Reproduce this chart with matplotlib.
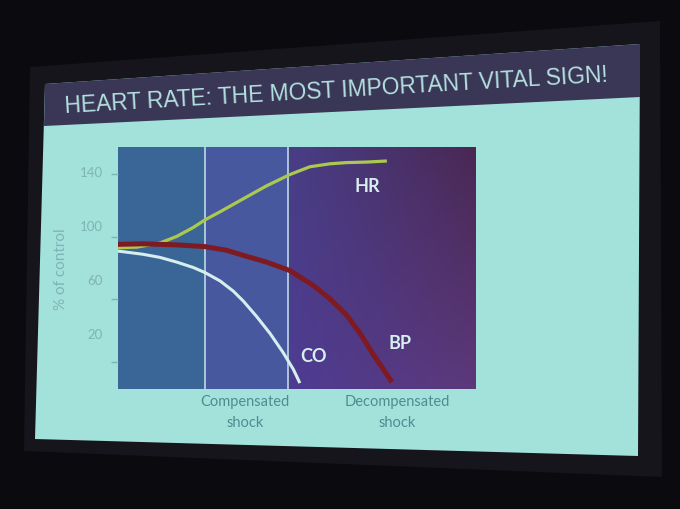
import matplotlib
matplotlib.use("Agg")
import matplotlib.pyplot as plt
import numpy as np
from matplotlib.patches import Polygon

# values (x: 0-100 across the plot, y: % of control)
hr_x = [0, 5.2, 11.7, 16.4, 21, 24.3, 28.5, 35, 41.5, 48, 53.6, 59.2, 63.9, 69.5, 75.1]
hr_y = [83.1, 83.5, 86.6, 91.5, 98.1, 103.8, 109.8, 119.5, 129.1, 137.5, 143.3, 145.5, 146.4, 146.8, 147.6]
bp_x = [0, 7, 16.4, 24.3, 30.3, 35, 41.5, 48, 54.6, 59.2, 63.9, 67.6, 71.3, 74.1, 76.5]
bp_y = [85.6, 86, 85.2, 83.9, 81.2, 77.4, 72.4, 66.1, 54.9, 45.1, 32.9, 19.5, 3.7, -7.2, -16.8]
co_x = [0, 7, 11.7, 16.4, 21, 24.3, 28.5, 32.2, 35, 38.7, 42.5, 46.2, 49, 50.8]
co_y = [80.6, 78.2, 75.9, 72.4, 68.4, 64.6, 58.4, 50.8, 43.4, 32.0, 19.2, 4.8, -7.5, -17.6]

phase_edges = [24.2, 47.6]
ytick_labels = [140, 100, 60, 20]
ytick_marks = [138, 91, 45, -2]
phase_labels = ["Compensated\nshock", "Decompensated\nshock"]
phase_label_x = [35.5, 78]
curve_names = ["HR", "BP", "CO"]
curve_label_pos = [(69.6, 129), (78.8, 12.3), (54.5, 3)]
title = "HEART RATE: THE MOST IMPORTANT VITAL SIGN!"

W, H = 680, 510


def fp(pts):
    # pixel coords -> figure fraction
    return [(x / W, 1 - y / H) for x, y in pts]


fig = plt.figure(figsize=(6.8, 5.1), dpi=100, facecolor="#0b0a0f")

# screen frame, slide and title band (behind the axes)
frame = Polygon(fp([(30, 68), (660, 22), (662, 478), (24, 452)]), closed=True,
                transform=fig.transFigure, facecolor="#17151c", edgecolor="none",
                zorder=-12)
slide = Polygon(fp([(45, 85), (640, 45), (638, 457), (35, 440)]), closed=True,
                transform=fig.transFigure, facecolor="#a3e2db", edgecolor="none",
                zorder=-11)
band = Polygon(fp([(45, 85), (640, 45), (640, 98), (44, 127)]), closed=True,
               transform=fig.transFigure, facecolor="#3a3656", edgecolor="none",
               zorder=-10)
for p in (frame, slide, band):
    fig.add_artist(p)

t = fig.text(336 / W, 1 - 91 / H, title, ha="center", va="center",
             color="#b3e1df", fontsize=20, fontweight="medium",
             family=["Liberation Sans Narrow", "DejaVu Sans Condensed", "Liberation Sans"])
r = fig.canvas.get_renderer()
w = t.get_window_extent(r).width
t.set_fontsize(20 * 543 / w)
t.set_rotation(3.3)
t.set_rotation_mode("anchor")

ax = fig.add_axes([118 / W, 1 - 390 / H, 358 / W, 242 / H])
ax.set_xlim(0, 100)
ax.set_ylim(-22, 158)
for s in ax.spines.values():
    s.set_visible(False)

# background panels
ax.axvspan(0, phase_edges[0], color="#3a6597", lw=0, zorder=0)
ax.axvspan(phase_edges[0], phase_edges[1], color="#47589e", lw=0, zorder=0)
tl = np.array([72, 62, 134]) / 255
tr = np.array([74, 40, 84]) / 255
bl = np.array([78, 60, 146]) / 255
br = np.array([92, 56, 122]) / 255
u = np.linspace(0, 1, 60)[None, :, None]
v = np.linspace(0, 1, 40)[:, None, None]
img = (1 - v) * ((1 - u) * tl + u * tr) + v * ((1 - u) * bl + u * br)
ax.imshow(img, extent=[phase_edges[1], 100, -22, 158], aspect="auto",
          interpolation="bilinear", zorder=0)
ax.set_xlim(0, 100)
ax.set_ylim(-22, 158)

for xe in phase_edges:
    ax.axvline(xe, color="#b9dbe4", lw=1.2, zorder=1)

ax.plot(hr_x, hr_y, color="#abc94f", lw=2.3, solid_capstyle="butt",
        solid_joinstyle="round", zorder=3)
ax.plot(bp_x, bp_y, color="#7e1a22", lw=3.6, solid_capstyle="butt",
        solid_joinstyle="round", zorder=3)
ax.plot(co_x, co_y, color="#d6eeee", lw=2.2, solid_capstyle="butt",
        solid_joinstyle="round", zorder=3)

for name, (lx, ly) in zip(curve_names, curve_label_pos):
    ax.text(lx, ly, name, ha="center", va="center", color="#d8eff0",
            fontsize=13, fontweight="bold", family="Lato", zorder=4)

ax.set_xticks([])
ax.set_yticks(ytick_labels)
ax.set_yticklabels([str(v) for v in ytick_labels], family="Lato", fontsize=9.5,
                   color="#80b3b6")
ax.tick_params(axis="y", length=0, pad=11)
ax.set_yticks(ytick_marks, minor=True)
ax.tick_params(axis="y", which="minor", length=5, width=1, color="#80b3b6")
ax.set_ylabel("% of control", family="Lato", fontsize=11, color="#80b3b6",
              labelpad=8)

for lab, lx in zip(phase_labels, phase_label_x):
    ax.text(lx, -26, lab, ha="center", va="top", color="#4f8c92", fontsize=10.5,
            family="Lato", linespacing=1.6, transform=ax.transData,
            clip_on=False)

fig.savefig("out.png", dpi=100, facecolor=fig.get_facecolor())
